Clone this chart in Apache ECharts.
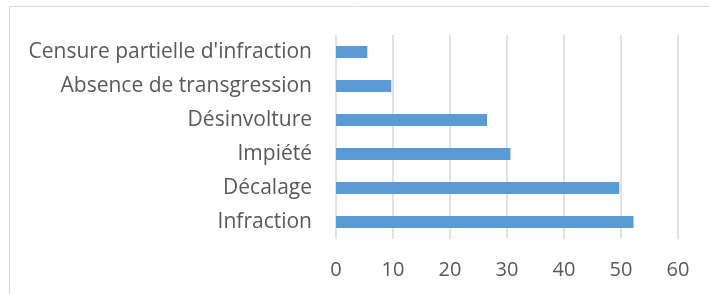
<!DOCTYPE html>
<html>
<head>
<meta charset="utf-8">
<script src="https://cdn.jsdelivr.net/npm/echarts@6/dist/echarts.min.js"></script>
<style>
  html, body { margin: 0; padding: 0; background: #fff; }
  #chart { width: 709px; height: 294px; }
</style>
</head>
<body>
<div id="chart"></div>
<script>
// categories, bottom to top as ECharts draws them
const categories = ['Infraction', 'Décalage', 'Impiété', 'Désinvolture', 'Absence de transgression', "Censure partielle d'infraction"];
const values = [52.2, 49.7, 30.6, 26.5, 9.7, 5.5];
const xTicks = [0, 10, 20, 30, 40, 50, 60];

const textColor = '#595959';
const gridColor = '#d9d9d9';

var myChart = echarts.init(document.getElementById('chart'));

const getOptions = () => {
  return {
    backgroundColor: '#fff',
    animation: false,
    textStyle: { fontFamily: 'Open Sans' },
    graphic: [
      {
        // chart frame, cut by the right and bottom edges
        type: 'polyline',
        shape: { points: [[9.5, 300], [9.5, 6.5], [720, 6.5]] },
        style: { stroke: gridColor, lineWidth: 1, fill: null }
      }
    ],
    grid: {
      left: 336,
      right: 31,
      top: 35,
      bottom: 55
    },
    xAxis: {
      type: 'value',
      min: xTicks[0],
      max: xTicks[xTicks.length - 1],
      interval: 10,
      axisLine: { show: false },
      axisTick: { show: false },
      splitLine: { lineStyle: { color: gridColor, width: 1.5 } },
      axisLabel: { color: textColor, fontSize: 20, margin: 21 }
    },
    yAxis: {
      type: 'category',
      data: categories,
      axisLine: { show: false },
      axisTick: { show: false },
      axisLabel: { color: textColor, fontSize: 21, margin: 24 }
    },
    series: [
      {
        type: 'bar',
        data: values,
        barWidth: 12,
        itemStyle: { color: '#5b9bd5' }
      }
    ]
  };
};

myChart.setOption(getOptions(), true);
</script>
</body>
</html>
